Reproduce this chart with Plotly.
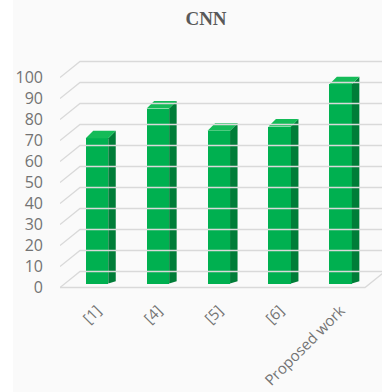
import plotly.graph_objects as go

categories = ["[1]", "[4]", "[5]", "[6]", "Proposed work"]
values = [68.5, 82.5, 72, 74, 94]
tick_values = [0, 10, 20, 30, 40, 50, 60, 70, 80, 90, 100]

# style / geometry (pixel-derived)
W, H = 382, 392
ML, MR, MT, MB = 60, 0, 40, 102
plot_w = W - ML - MR
plot_h = H - MT - MB
px_per_cat = 60.9
first_cat_px = 97
x0 = -(first_cat_px - ML) / px_per_cat
x1 = x0 + plot_w / px_per_cat

k_bar = 2.12          # px per unit in bar plane
bar_zero_px = 283.5
yb0 = -((MT + plot_h) - bar_zero_px) / k_bar
yb1 = yb0 + plot_h / k_bar

k_lab = 2.1           # px per unit in front plane
lab_zero_px = 287.5
yl0 = -((MT + plot_h) - lab_zero_px) / k_lab
yl1 = yl0 + plot_h / k_lab

bar_w = 22.5 / px_per_cat
depth_dx = 7.5 / px_per_cat
depth_dy = 7.5 / k_bar
back_dx = 20 / px_per_cat
back_dy = 16 / k_lab

front_col = "#00b050"
side_col = "#007d38"
top_col = "#14bb58"
grid_col = "#d9d9d9"
text_col = "#737373"

fig = go.Figure()

# gridlines (front-left slant + back wall)
xl = x0
xb = x0 + back_dx
gx, gy = [], []
for v in tick_values:
    gx += [xl, xb, x1 + 0.5, None]
    gy += [v, v + back_dy, v + back_dy, None]
fig.add_trace(go.Scatter(x=gx, y=gy, xaxis="x", yaxis="y2", mode="lines",
                         line=dict(color=grid_col, width=1.3), hoverinfo="skip", showlegend=False))
# floor front edge and right slant
floor_right = x0 + 305 / px_per_cat
fig.add_trace(go.Scatter(x=[xl, floor_right, floor_right + back_dx],
                         y=[0, 0, back_dy], xaxis="x", yaxis="y2", mode="lines",
                         line=dict(color=grid_col, width=1.3), hoverinfo="skip", showlegend=False))

# front faces
xs = list(range(len(categories)))
fig.add_trace(go.Bar(x=xs, y=values, width=bar_w, marker=dict(color=front_col, line=dict(width=0)),
                     xaxis="x", yaxis="y", showlegend=False))

# side & top faces
for i, v in enumerate(values):
    r = i + bar_w / 2
    l = i - bar_w / 2
    fig.add_trace(go.Scatter(x=[r, r + depth_dx, r + depth_dx, r, r],
                             y=[0, depth_dy * 0.3, v + depth_dy, v, 0],
                             fill="toself", fillcolor=side_col, mode="lines",
                             line=dict(width=0, color=side_col), hoverinfo="skip",
                             showlegend=False, xaxis="x", yaxis="y"))
    fig.add_trace(go.Scatter(x=[l, r, r + depth_dx, l + depth_dx, l],
                             y=[v, v, v + depth_dy, v + depth_dy, v],
                             fill="toself", fillcolor=top_col, mode="lines",
                             line=dict(width=0, color=top_col), hoverinfo="skip",
                             showlegend=False, xaxis="x", yaxis="y"))

fig.update_layout(
    width=W, height=H,
    margin=dict(l=ML, r=MR, t=MT, b=MB, pad=0),
    paper_bgcolor="#fafafa", plot_bgcolor="rgba(0,0,0,0)",
    title=dict(text="<b>CNN</b>", x=206 / W, xref="container", xanchor="center",
               y=1 - 18 / H, yref="container", yanchor="middle",
               font=dict(family="Liberation Serif", size=19, color="#595959")),
    xaxis=dict(range=[x0, x1], tickmode="array", tickvals=xs, ticktext=categories,
               tickangle=-45, showgrid=False, zeroline=False, showline=False, ticks="",
               ticklabelstandoff=8,
               tickfont=dict(family="Open Sans", size=15, color=text_col)),
    yaxis=dict(range=[yb0, yb1], showgrid=False, zeroline=False, showline=False,
               showticklabels=False, ticks=""),
    yaxis2=dict(range=[yl0, yl1], overlaying="y", side="left", tickmode="array",
                tickvals=tick_values, showgrid=False, zeroline=False, showline=False,
                ticks="", ticklabelstandoff=16,
                tickfont=dict(family="Open Sans", size=16, color=text_col)),
    shapes=[dict(type="rect", xref="paper", yref="paper",
                 x0=-ML / plot_w, x1=(13 - ML) / plot_w, y0=-MB / plot_h, y1=1 + MT / plot_h,
                 fillcolor="white", line=dict(width=0), layer="below")],
    bargap=0,
)

fig.write_html("out.html")
